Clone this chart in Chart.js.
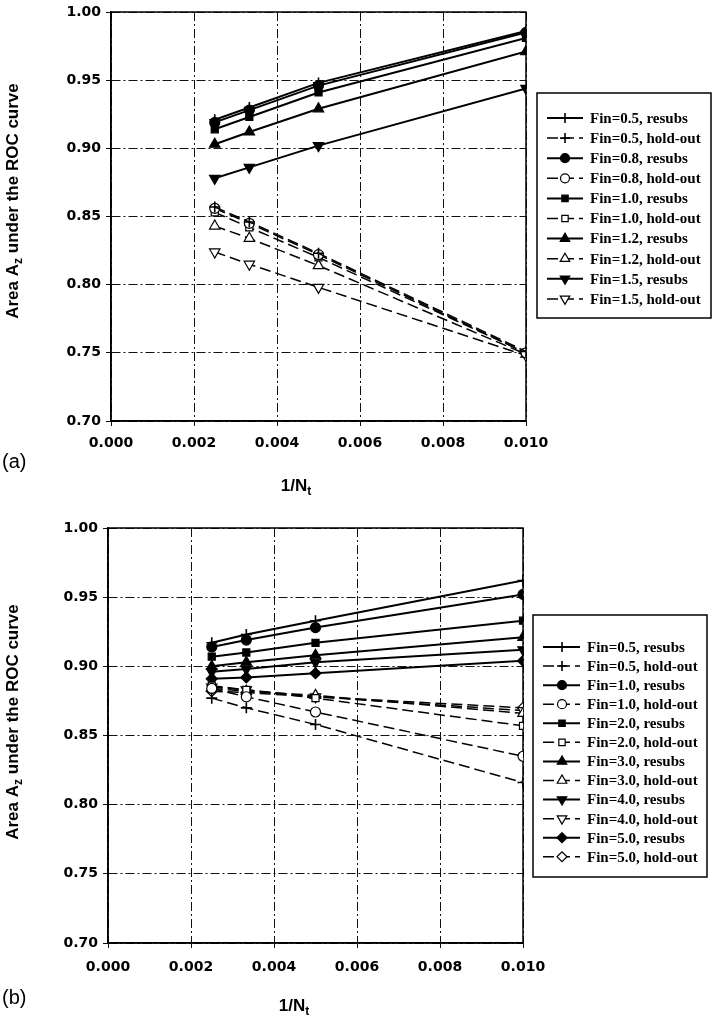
<!DOCTYPE html>
<html>
<head>
<meta charset="utf-8">
<script src="https://cdn.jsdelivr.net/npm/chart.js@4.4.1/dist/chart.umd.min.js"></script>
<style>
  body { margin: 0; background: #fff; width: 712px; height: 1020px; position: relative; overflow: hidden; }
  canvas { position: absolute; left: 0; }
  #chartA { top: 0; }
  #chartB { top: 500px; }
</style>
</head>
<body>
<canvas id="chartA" width="712" height="500"></canvas>
<canvas id="chartB" width="712" height="520"></canvas>
<script>
// x values: 1/Nt for Nt = 400, 300, 200, 100
const invNt = [1 / 400, 1 / 300, 1 / 200, 1 / 100];
const xTicks = [0, 0.002, 0.004, 0.006, 0.008, 0.010];
const yTicks = [0.70, 0.75, 0.80, 0.85, 0.90, 0.95, 1.00];

// panel (a)
const labelsA = ["Fin=0.5, resubs", "Fin=0.5, hold-out", "Fin=0.8, resubs", "Fin=0.8, hold-out",
  "Fin=1.0, resubs", "Fin=1.0, hold-out", "Fin=1.2, resubs", "Fin=1.2, hold-out",
  "Fin=1.5, resubs", "Fin=1.5, hold-out"];
const a05Resubs = [0.921, 0.930, 0.948, 0.986];
const a05Hold = [0.857, 0.846, 0.823, 0.751];
const a08Resubs = [0.919, 0.928, 0.946, 0.985];
const a08Hold = [0.856, 0.845, 0.822, 0.750];
const a10Resubs = [0.914, 0.923, 0.941, 0.981];
const a10Hold = [0.853, 0.842, 0.820, 0.750];
const a12Resubs = [0.903, 0.912, 0.929, 0.971];
const a12Hold = [0.843, 0.834, 0.814, 0.749];
const a15Resubs = [0.878, 0.886, 0.902, 0.944];
const a15Hold = [0.824, 0.815, 0.798, 0.748];

// panel (b)
const labelsB = ["Fin=0.5, resubs", "Fin=0.5, hold-out", "Fin=1.0, resubs", "Fin=1.0, hold-out",
  "Fin=2.0, resubs", "Fin=2.0, hold-out", "Fin=3.0, resubs", "Fin=3.0, hold-out",
  "Fin=4.0, resubs", "Fin=4.0, hold-out", "Fin=5.0, resubs", "Fin=5.0, hold-out"];
const b05Resubs = [0.917, 0.923, 0.933, 0.962];
const b05Hold = [0.877, 0.870, 0.858, 0.816];
const b10Resubs = [0.914, 0.919, 0.928, 0.952];
const b10Hold = [0.884, 0.878, 0.867, 0.835];
const b20Resubs = [0.907, 0.910, 0.917, 0.933];
const b20Hold = [0.886, 0.883, 0.877, 0.857];
const b30Resubs = [0.900, 0.903, 0.908, 0.921];
const b30Hold = [0.884, 0.882, 0.879, 0.866];
const b40Resubs = [0.896, 0.898, 0.903, 0.912];
const b40Hold = [0.885, 0.883, 0.878, 0.868];
const b50Resubs = [0.891, 0.892, 0.895, 0.904];
const b50Hold = [0.882, 0.881, 0.878, 0.870];

// marker shapes
const CROSS = { style: "cross", rot: 0, r: 5.5 };
const CIRCLE = { style: "circle", rot: 0, r: 5 };
const SQUARE = { style: "rect", rot: 0, r: 5 };
const TRI_UP = { style: "triangle", rot: 0, r: 6 };
const TRI_DOWN = { style: "triangle", rot: 180, r: 6 };
const DIAMOND = { style: "rectRot", rot: 0, r: 5.5 };

function makeSet(label, values, marker, holdout) {
  return {
    label: label,
    data: invNt.map((x, i) => ({ x: x, y: values[i] })),
    borderColor: "#000",
    borderWidth: holdout ? 1.5 : 2,
    borderDash: holdout ? [11, 5] : [],
    pointStyle: marker.style,
    rotation: marker.rot,
    pointRadius: marker.r,
    pointBackgroundColor: holdout ? "#fff" : "#000",
    pointBorderColor: "#000",
    pointBorderWidth: marker.style === "cross" ? 1.6 : 1.2,
    fill: false,
    tension: 0
  };
}

// axis titles with subscripts, panel label
function drawRich(ctx, parts, cx, cy, rotate) {
  ctx.save();
  ctx.translate(cx, cy);
  if (rotate) ctx.rotate(-Math.PI / 2);
  let total = 0;
  parts.forEach(p => {
    ctx.font = p.sub ? "bold 12px 'Liberation Sans'" : "bold 17px 'Liberation Sans'";
    p.w = ctx.measureText(p.t).width;
    total += p.w;
  });
  let x = -total / 2;
  ctx.fillStyle = "#000";
  ctx.textBaseline = "middle";
  parts.forEach(p => {
    ctx.font = p.sub ? "bold 12px 'Liberation Sans'" : "bold 17px 'Liberation Sans'";
    ctx.fillText(p.t, x, p.sub ? 6 : 0);
    x += p.w;
  });
  ctx.restore();
}

const decorPlugin = {
  id: "decor",
  beforeDatasetsDraw(chart, args, opts) {
    const ctx = chart.ctx, a = chart.chartArea;
    ctx.save();
    ctx.strokeStyle = "#000";
    ctx.lineWidth = 1.5;
    ctx.setLineDash([]);
    ctx.strokeRect(a.left, a.top, a.right - a.left, a.bottom - a.top);
    ctx.restore();
  },
  afterDraw(chart, args, opts) {
    const ctx = chart.ctx;
    drawRich(ctx, [{ t: "Area A" }, { t: "z", sub: true }, { t: " under the ROC curve" }], opts.yTitle[0], opts.yTitle[1], true);
    drawRich(ctx, [{ t: "1/N" }, { t: "t", sub: true }], opts.xTitle[0], opts.xTitle[1], false);
    ctx.save();
    ctx.font = "20px 'Liberation Sans'";
    ctx.fillStyle = "#000";
    ctx.textBaseline = "middle";
    ctx.fillText(opts.panel, opts.panelPos[0], opts.panelPos[1]);
    ctx.restore();

    // legend box
    const L = opts.legend;
    ctx.save();
    ctx.fillStyle = "#fff";
    ctx.fillRect(L.x, L.y, L.w, L.h);
    ctx.strokeStyle = "#000";
    ctx.lineWidth = 1.5;
    ctx.strokeRect(L.x, L.y, L.w, L.h);
    chart.data.datasets.forEach((ds, i) => {
      const y = L.firstY + i * L.step;
      ctx.strokeStyle = "#000";
      ctx.lineWidth = ds.borderWidth;
      ctx.setLineDash(ds.borderDash);
      ctx.beginPath();
      ctx.moveTo(L.lineX0, y);
      ctx.lineTo(L.lineX1, y);
      ctx.stroke();
      ctx.setLineDash([]);
      ctx.fillStyle = ds.pointBackgroundColor;
      ctx.lineWidth = ds.pointBorderWidth;
      if (Chart.helpers && Chart.helpers.drawPoint) {
        Chart.helpers.drawPoint(ctx, {
          pointStyle: ds.pointStyle, rotation: ds.rotation,
          radius: ds.pointRadius - 0.5, borderWidth: ds.pointBorderWidth
        }, L.markX, y);
      }
      ctx.fillStyle = "#000";
      ctx.font = "bold 15px 'Liberation Serif'";
      ctx.textBaseline = "middle";
      ctx.fillText(ds.label, L.textX, y + 1);
    });
    ctx.restore();
  }
};

function makeOptions(pad, yWidth, xHeight, xPad, decor) {
  return {
    responsive: false,
    animation: false,
    devicePixelRatio: 1,
    layout: { padding: { left: 0, top: pad.top, right: pad.right, bottom: 0 } },
    plugins: { legend: { display: false }, tooltip: { enabled: false }, decor: decor },
    scales: {
      x: {
        type: "linear", min: 0, max: 0.010,
        afterBuildTicks: s => { s.ticks = xTicks.map(v => ({ value: v })); },
        afterFit: s => { s.height = xHeight; },
        ticks: {
          callback: v => v.toFixed(3), color: "#000", padding: xPad, maxRotation: 0,
          font: { family: "DejaVu Sans", weight: "bold", size: 14 }
        },
        grid: { color: "#111", lineWidth: 1, tickLength: 5 },
        border: { color: "#000", width: 1.5, dash: [9, 3, 2, 3] }
      },
      y: {
        type: "linear", min: 0.70, max: 1.00,
        afterBuildTicks: s => { s.ticks = yTicks.map(v => ({ value: v })); },
        afterFit: s => { s.width = yWidth; },
        ticks: {
          callback: v => v.toFixed(2), color: "#000", padding: 5,
          font: { family: "DejaVu Sans", weight: "bold", size: 14, lineHeight: 1 }
        },
        grid: { color: "#111", lineWidth: 1, tickLength: 5 },
        border: { color: "#000", width: 1.5, dash: [9, 3, 2, 3] }
      }
    }
  };
}

const setsA = [
  makeSet(labelsA[0], a05Resubs, CROSS, false), makeSet(labelsA[1], a05Hold, CROSS, true),
  makeSet(labelsA[2], a08Resubs, CIRCLE, false), makeSet(labelsA[3], a08Hold, CIRCLE, true),
  makeSet(labelsA[4], a10Resubs, SQUARE, false), makeSet(labelsA[5], a10Hold, SQUARE, true),
  makeSet(labelsA[6], a12Resubs, TRI_UP, false), makeSet(labelsA[7], a12Hold, TRI_UP, true),
  makeSet(labelsA[8], a15Resubs, TRI_DOWN, false), makeSet(labelsA[9], a15Hold, TRI_DOWN, true)
];

const setsB = [
  makeSet(labelsB[0], b05Resubs, CROSS, false), makeSet(labelsB[1], b05Hold, CROSS, true),
  makeSet(labelsB[2], b10Resubs, CIRCLE, false), makeSet(labelsB[3], b10Hold, CIRCLE, true),
  makeSet(labelsB[4], b20Resubs, SQUARE, false), makeSet(labelsB[5], b20Hold, SQUARE, true),
  makeSet(labelsB[6], b30Resubs, TRI_UP, false), makeSet(labelsB[7], b30Hold, TRI_UP, true),
  makeSet(labelsB[8], b40Resubs, TRI_DOWN, false), makeSet(labelsB[9], b40Hold, TRI_DOWN, true),
  makeSet(labelsB[10], b50Resubs, DIAMOND, false), makeSet(labelsB[11], b50Hold, DIAMOND, true)
];

new Chart(document.getElementById("chartA"), {
  type: "line",
  data: { datasets: setsA },
  options: makeOptions({ top: 6, right: 186 }, 111, 79, 9, {
    yTitle: [13, 201], xTitle: [296, 486], panel: "(a)", panelPos: [2, 462],
    legend: { x: 537, y: 93, w: 174, h: 225, firstY: 118, step: 20.1, lineX0: 547, lineX1: 583, markX: 565, textX: 590 }
  }),
  plugins: [decorPlugin]
});

new Chart(document.getElementById("chartB"), {
  type: "line",
  data: { datasets: setsB },
  options: makeOptions({ top: 28, right: 189 }, 108, 77, 11, {
    yTitle: [13, 222], xTitle: [294, 506], panel: "(b)", panelPos: [2, 498],
    legend: { x: 533, y: 115, w: 174, h: 262, firstY: 147, step: 19.07, lineX0: 543, lineX1: 580, markX: 562, textX: 587 }
  }),
  plugins: [decorPlugin]
});
</script>
</body>
</html>
